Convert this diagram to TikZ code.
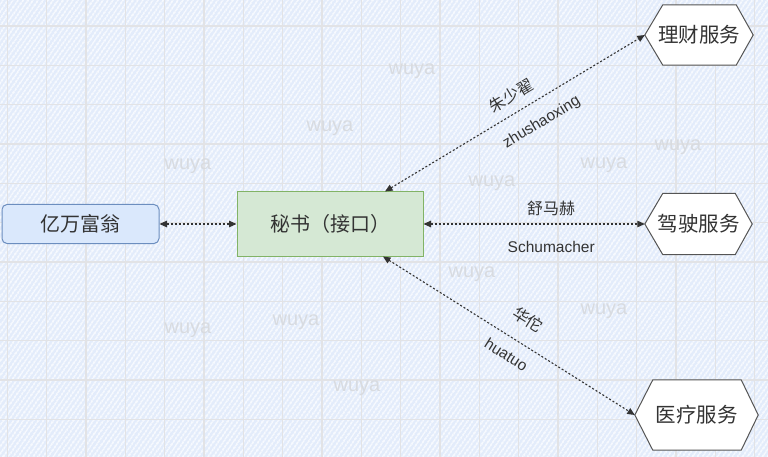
\documentclass[tikz,border=0pt]{standalone}
\usepackage{fontspec}
\setmainfont{Liberation Sans}
\newfontfamily\cjk{Noto Sans CJK SC}
\usetikzlibrary{arrows.meta,patterns.meta}
\definecolor{txt}{HTML}{333333}
\definecolor{bgbase}{HTML}{E3ECFB}
\definecolor{stripe}{HTML}{F6F9FE}
\definecolor{gridc}{HTML}{E2E3E6}
\definecolor{wmc}{HTML}{D8DBE0}
\definecolor{richfill}{HTML}{DAE8FC}
\definecolor{richdraw}{HTML}{6C8EBF}
\definecolor{secfill}{HTML}{D5E8D4}
\definecolor{secdraw}{HTML}{82B366}
\definecolor{hexdraw}{HTML}{555555}
\pgfdeclarelayer{gridlayer}
\pgfdeclarelayer{shapelayer}
\pgfsetlayers{gridlayer,shapelayer,main}
\tikzset{
  gridline/.style={draw=gridc, line width=1.2pt},
  watermark/.style={text=wmc, font=\fontsize{20}{20}\selectfont, inner sep=0pt},
  richbox/.style={draw=richdraw, fill=richfill, rounded corners=5pt, line width=1pt,
    minimum width=157pt, minimum height=39pt, text=txt, font=\cjk\fontsize{20}{20}\selectfont},
  secbox/.style={draw=secdraw, fill=secfill, line width=1pt,
    minimum width=186pt, minimum height=64pt, text=txt, font=\cjk\fontsize{20}{20}\selectfont},
  hexnode/.style={minimum width=108pt, minimum height=60pt, inner sep=0pt, text=txt,
    font=\cjk\fontsize{20.5}{20.5}\selectfont},
  hexline/.style={draw=hexdraw, fill=white, line width=1pt, line join=miter},
  link/.style={draw=txt, line width=1.1pt, dash pattern=on 2pt off 2pt,
    {Triangle[length=7.5pt,width=6.5pt]}-{Triangle[length=7.5pt,width=6.5pt]}},
  cnlbl/.style={text=txt, inner sep=0pt, font=\cjk\fontsize{16}{16}\selectfont},
  enlbl/.style={text=txt, inner sep=0pt, font=\fontsize{15.5}{15.5}\selectfont}
}
\begin{document}
\begin{tikzpicture}[x=1pt,y=-1pt]
\useasboundingbox (0,0) rectangle (768,457);
\begin{pgfonlayer}{gridlayer}
  \fill[bgbase] (0,0) rectangle (768,457);
  \fill[pattern={Lines[angle=55,distance=4pt,line width=1.6pt]}, pattern color=stripe] (0,0) rectangle (768,457);
  \foreach \i in {0,...,19} \draw[gridline] ({7.33+39.33*\i},0) -- ++(0,457);
  \foreach \j in {0,...,10} \draw[gridline] (0,{26+39.33*\j}) -- ++(768,0);
  \foreach \p [count=\k] in {(412,71),(330,128),(188,166),(492,183),(604,165),(678,147),(472,274),(296,322),(188,330),(604,311),(357,388)}
    \node[watermark] (wm\k) at \p {wuya};
\end{pgfonlayer}

\node[richbox] (rich) at (80.5,224) {亿万富翁};
\node[secbox] (sec) at (330,224) {秘书（接口）};
\node[hexnode] (h1) at (699,35) {理财服务};
\node[hexnode, minimum width=107pt, minimum height=61pt] (h2) at (698.5,224) {驾驶服务};
\node[hexnode, minimum width=123pt, minimum height=70pt] (h3) at (696.5,415) {医疗服务};

\begin{pgfonlayer}{shapelayer}
  \foreach \n in {h1,h2,h3}
    \draw[hexline] (\n.west) -- ([xshift=18pt]\n.north west) -- ([xshift=-17pt]\n.north east)
      -- (\n.east) -- ([xshift=-17pt]\n.south east) -- ([xshift=18pt]\n.south west) -- cycle;
\end{pgfonlayer}

\draw[link] (rich.east) -- (sec.west);
\draw[link] ([xshift=55pt]sec.north) -- (h1.west)
  node[cnlbl, pos=.52, sloped, above=9pt] (l1a) {朱少翟}
  node[enlbl, pos=.56, sloped, below=14pt] (l1b) {zhushaoxing};
\draw[link] (sec.east) -- (h2.west)
  node[cnlbl, pos=.577, above=8pt] (l2a) {舒马赫}
  node[enlbl, pos=.577, below=17pt] (l2b) {Schumacher};
\draw[link] ([xshift=53pt]sec.south) -- (h3.west)
  node[cnlbl, pos=.526, sloped, above=16pt] (l3a) {华佗}
  node[enlbl, pos=.526, sloped, below=11pt] (l3b) {huatuo};
\end{tikzpicture}
\end{document}
